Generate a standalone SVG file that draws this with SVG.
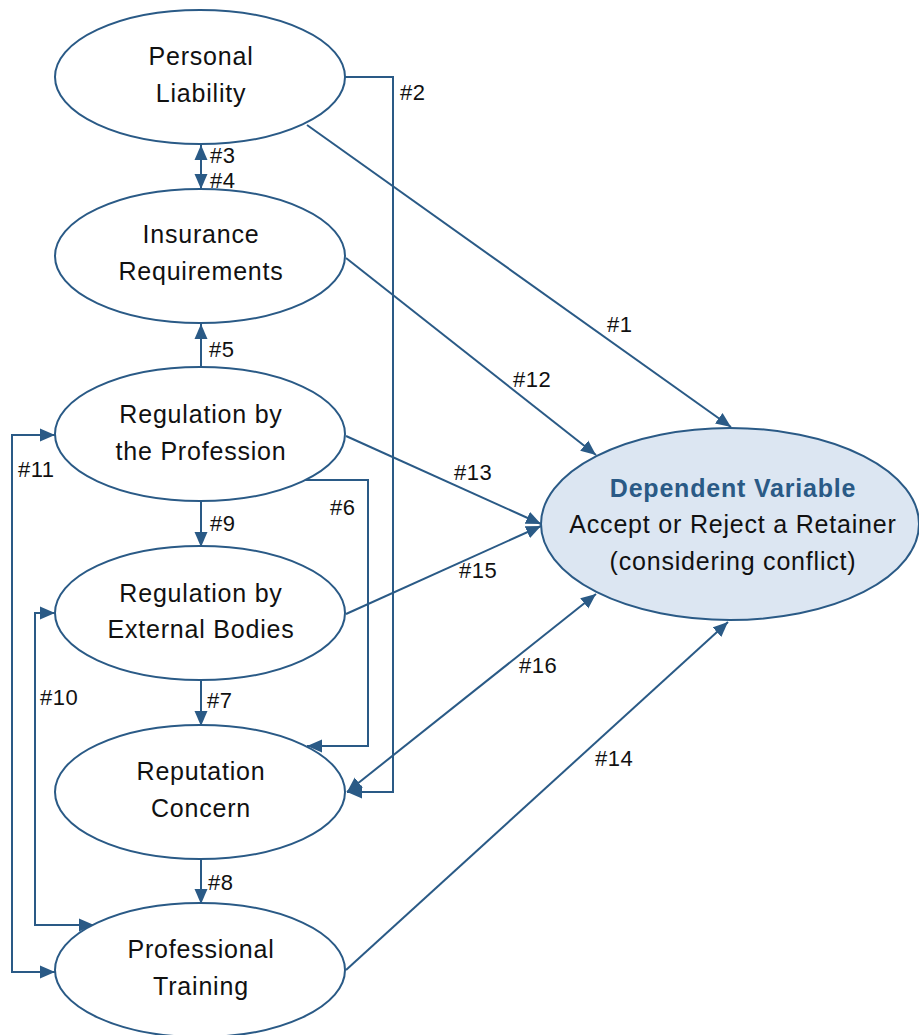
<svg xmlns="http://www.w3.org/2000/svg" width="919" height="1035" viewBox="0 0 919 1035">
  <style>
    .node { fill: #ffffff; stroke: #2a5a86; stroke-width: 2; }
    .dep { fill: #dce6f2; stroke: #2a5a86; stroke-width: 2; }
    .txt { font-family: "Liberation Sans", Arial, sans-serif; font-size: 25px; letter-spacing: 0.8px; fill: #111111; text-anchor: middle; }
    .head { font-weight: bold; fill: #2a5a86; }
    .lbl { font-family: "Liberation Sans", Arial, sans-serif; font-size: 22px; letter-spacing: 0.5px; fill: #111111; }
    .conn { fill: none; stroke: #2a5a86; stroke-width: 2; }
    .one { marker-end: url(#arrow); }
    .two { marker-start: url(#arrow); marker-end: url(#arrow); }
  </style>
  <defs>
    <marker id="arrow" markerUnits="userSpaceOnUse" markerWidth="16" markerHeight="14" refX="15" refY="6.5" orient="auto-start-reverse" viewBox="0 0 16 13">
      <path d="M0,0 L15,6.5 L0,13 z" fill="#2a5a86"/>
    </marker>
  </defs>

  <!-- connectors -->
  <g id="connectors">
    <path class="conn one" d="M307,125 L731,427"/>
    <path class="conn one" d="M345,77 H393 V792 H347"/>
    <path class="conn two" d="M201,145 V189"/>
    <path class="conn one" d="M201,367 V324"/>
    <path class="conn one" d="M305,480 H368 V746 H307"/>
    <path class="conn one" d="M201,501 V547"/>
    <path class="conn one" d="M201,680 V726"/>
    <path class="conn one" d="M201,859 V904"/>
    <path class="conn two" d="M55,613 H35 V925 H94"/>
    <path class="conn two" d="M55,435 H12 V972 H55"/>
    <path class="conn one" d="M346,258 L596,455"/>
    <path class="conn one" d="M346,436 L541,524"/>
    <path class="conn one" d="M346,614 L541,526"/>
    <path class="conn two" d="M347,792 L596,594"/>
    <path class="conn one" d="M346,970 L728,622"/>

    <text class="lbl" x="400" y="100">#2</text>
    <text class="lbl" x="210" y="163">#3</text>
    <text class="lbl" x="210" y="188">#4</text>
    <text class="lbl" x="209" y="357">#5</text>
    <text class="lbl" x="18" y="477">#11</text>
    <text class="lbl" x="330" y="515">#6</text>
    <text class="lbl" x="210" y="531">#9</text>
    <text class="lbl" x="40" y="705">#10</text>
    <text class="lbl" x="207" y="708">#7</text>
    <text class="lbl" x="208" y="890">#8</text>
    <text class="lbl" x="607" y="332">#1</text>
    <text class="lbl" x="513" y="387">#12</text>
    <text class="lbl" x="454" y="480">#13</text>
    <text class="lbl" x="459" y="578">#15</text>
    <text class="lbl" x="519" y="673">#16</text>
    <text class="lbl" x="595" y="766">#14</text>
  </g>

  <g id="personal-liability">
    <ellipse class="node" cx="200" cy="77" rx="145" ry="67"/>
    <text class="txt" x="201" y="65">Personal</text>
    <text class="txt" x="201" y="102">Liability</text>
  </g>
  <g id="insurance-requirements">
    <ellipse class="node" cx="200" cy="256" rx="145" ry="67"/>
    <text class="txt" x="201" y="243">Insurance</text>
    <text class="txt" x="201" y="280">Requirements</text>
  </g>
  <g id="regulation-profession">
    <ellipse class="node" cx="200" cy="434" rx="145" ry="67"/>
    <text class="txt" x="201" y="423">Regulation by</text>
    <text class="txt" x="201" y="460">the Profession</text>
  </g>
  <g id="regulation-external">
    <ellipse class="node" cx="200" cy="613" rx="145" ry="67"/>
    <text class="txt" x="201" y="602">Regulation by</text>
    <text class="txt" x="201" y="638">External Bodies</text>
  </g>
  <g id="reputation-concern">
    <ellipse class="node" cx="200" cy="792" rx="145" ry="67"/>
    <text class="txt" x="201" y="780">Reputation</text>
    <text class="txt" x="201" y="817">Concern</text>
  </g>
  <g id="professional-training">
    <ellipse class="node" cx="200" cy="970" rx="145" ry="67"/>
    <text class="txt" x="201" y="958">Professional</text>
    <text class="txt" x="201" y="995">Training</text>
  </g>
  <g id="dependent-variable">
    <ellipse class="dep" cx="730" cy="524" rx="189" ry="96"/>
    <text class="txt head" x="733" y="497">Dependent Variable</text>
    <text class="txt" x="733" y="533">Accept or Reject a Retainer</text>
    <text class="txt" x="733" y="570">(considering conflict)</text>
  </g>
</svg>
